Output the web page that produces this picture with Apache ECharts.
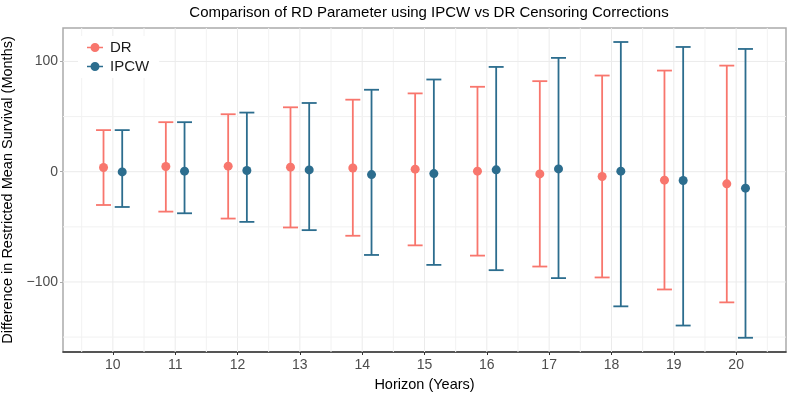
<!DOCTYPE html>
<html>
<head>
<meta charset="utf-8">
<script src="https://cdn.jsdelivr.net/npm/echarts@6/dist/echarts.min.js"></script>
<style>
  html, body { margin: 0; padding: 0; background: #fff; }
  #chart { width: 793px; height: 397px; }
</style>
</head>
<body>
<div id="chart"></div>
<script>
// horizons (years)
var horizons = [10, 11, 12, 13, 14, 15, 16, 17, 18, 19, 20];

// DR estimates with interval
var drMid  = [3.8, 4.7, 5.0, 4.1, 3.4, 2.3, 0.5, -2.0, -4.4, -7.7, -11.0];
var drLow  = [-30.2, -36.2, -42.5, -50.6, -58.1, -66.8, -76.1, -86.0, -95.9, -106.8, -118.5];
var drHigh = [37.7, 44.9, 52.1, 58.4, 65.3, 71.0, 77.0, 82.1, 87.2, 91.7, 96.2];

// IPCW estimates with interval
var ipcwMid  = [-0.2, 0.5, 1.1, 1.6, -2.6, -1.7, 1.7, 2.5, 0.5, -8.0, -14.9];
var ipcwLow  = [-32.0, -37.7, -45.5, -53.0, -75.5, -84.5, -89.3, -96.5, -122.1, -139.5, -150.6];
var ipcwHigh = [37.7, 44.9, 53.6, 62.3, 74.3, 83.6, 95.0, 103.2, 117.6, 113.1, 111.3];

// axis ticks / grid
var xMinor = [9.5, 10.5, 11.5, 12.5, 13.5, 14.5, 15.5, 16.5, 17.5, 18.5, 19.5, 20.5];
var yMajor = [-100, 0, 100];
var yMinor = [-150, -50, 50];

var X_MIN = 9.2, X_MAX = 20.8;
var Y_MIN = -163.5, Y_MAX = 130.3;
var DODGE = 0.15;
var CAP = 0.12;

var DR_COLOR = '#F8766D';
var IPCW_COLOR = '#2C6D8E';
var FONT = 'Liberation Sans, Arial, sans-serif';

var chart = echarts.init(document.getElementById('chart'));

function gridSeries(values, dim, color, width) {
  return {
    type: 'custom',
    silent: true,
    z: 1,
    legendHoverLink: false,
    data: values.map(function (v) { return [v]; }),
    renderItem: function (params, api) {
      var v = api.value(0);
      var cs = params.coordSys;
      if (dim === 'x') {
        var px = api.coord([v, 0])[0];
        return { type: 'line', shape: { x1: px, y1: cs.y, x2: px, y2: cs.y + cs.height },
          style: { stroke: color, lineWidth: width } };
      }
      var py = api.coord([10, v])[1];
      return { type: 'line', shape: { x1: cs.x, y1: py, x2: cs.x + cs.width, y2: py },
        style: { stroke: color, lineWidth: width } };
    }
  };
}

function errorBars(name, color, dodge, low, high) {
  return {
    type: 'custom',
    name: name,
    z: 3,
    itemStyle: { color: color },
    data: horizons.map(function (h, i) { return [h, low[i], high[i]]; }),
    encode: { x: 0, y: [1, 2] },
    renderItem: function (params, api) {
      var x = api.value(0) + dodge;
      var lo = api.coord([x, api.value(1)]);
      var hi = api.coord([x, api.value(2)]);
      var l = api.coord([x - CAP, api.value(1)])[0];
      var r = api.coord([x + CAP, api.value(1)])[0];
      var st = { stroke: color, lineWidth: 1.8 };
      return {
        type: 'group',
        children: [
          { type: 'line', shape: { x1: lo[0], y1: lo[1], x2: hi[0], y2: hi[1] }, style: st },
          { type: 'line', shape: { x1: l, y1: hi[1], x2: r, y2: hi[1] }, style: st },
          { type: 'line', shape: { x1: l, y1: lo[1], x2: r, y2: lo[1] }, style: st }
        ]
      };
    }
  };
}

function points(name, color, dodge, mid) {
  return {
    type: 'scatter',
    name: name,
    z: 4,
    symbol: 'circle',
    symbolSize: 9,
    itemStyle: { color: color, opacity: 1 },
    data: horizons.map(function (h, i) { return [h + dodge, mid[i]]; })
  };
}

var legendIcon = 'path://M0,3.7 L16,3.7 L16,5.3 L0,5.3 Z M8,0 A4.5,4.5 0 1 1 7.99,0 Z';

var option = {
  animation: false,
  backgroundColor: '#fff',
  title: {
    text: 'Comparison of RD Parameter using IPCW vs DR Censoring Corrections',
    left: 424,
    textAlign: 'center',
    top: 0,
    textStyle: { fontFamily: FONT, fontSize: 15, fontWeight: 'normal', color: '#000' }
  },
  legend: {
    data: [{ name: 'DR', icon: legendIcon }, { name: 'IPCW', icon: legendIcon }],
    orient: 'vertical',
    left: 78,
    top: 36,
    padding: [4, 10, 4, 9],
    itemGap: 4,
    itemWidth: 16,
    itemHeight: 9,
    backgroundColor: '#fff',
    textStyle: { fontFamily: FONT, fontSize: 15, color: '#1A1A1A', padding: [0, 0, 0, 2] }
  },
  grid: {
    left: 63, right: 7, top: 28, bottom: 45,
    outerBoundsMode: 'none',
    containLabel: false,
    show: true,
    borderColor: '#ABABAB',
    borderWidth: 1.5,
    backgroundColor: 'transparent'
  },
  xAxis: {
    type: 'value',
    min: X_MIN,
    max: X_MAX,
    name: 'Horizon (Years)',
    nameLocation: 'middle',
    nameGap: 25,
    nameTextStyle: { fontFamily: FONT, fontSize: 14.5, color: '#000' },
    axisLine: { show: true, onZero: false, lineStyle: { color: '#333', width: 1.5 } },
    axisTick: { show: true, customValues: horizons, length: 3, lineStyle: { color: '#333', width: 1 } },
    axisLabel: { customValues: horizons, fontFamily: FONT, fontSize: 14, color: '#4D4D4D', margin: 6 },
    splitLine: { show: false }
  },
  yAxis: {
    type: 'value',
    min: Y_MIN,
    max: Y_MAX,
    name: 'Difference in Restricted Mean Survival (Months)',
    nameLocation: 'middle',
    nameRotate: 90,
    nameGap: 41,
    nameTextStyle: { fontFamily: FONT, fontSize: 14.5, color: '#000' },
    axisLine: { show: false, onZero: false },
    axisTick: { show: true, customValues: yMajor, length: 3, lineStyle: { color: '#ABABAB', width: 1 } },
    axisLabel: {
      customValues: yMajor, fontFamily: FONT, fontSize: 14, color: '#4D4D4D', margin: 5,
      formatter: function (v) { return String(v).replace('-', '\u2212'); }
    },
    splitLine: { show: false }
  },
  series: [
    points('DR', DR_COLOR, -DODGE, drMid),
    points('IPCW', IPCW_COLOR, DODGE, ipcwMid),
    gridSeries(xMinor, 'x', '#F2F2F2', 1),
    gridSeries(horizons, 'x', '#EBEBEB', 1),
    gridSeries(yMinor, 'y', '#F2F2F2', 1),
    gridSeries(yMajor, 'y', '#EBEBEB', 1),
    errorBars('DR', DR_COLOR, -DODGE, drLow, drHigh),
    errorBars('IPCW', IPCW_COLOR, DODGE, ipcwLow, ipcwHigh)
  ]
};

chart.setOption(option);
</script>
</body>
</html>
